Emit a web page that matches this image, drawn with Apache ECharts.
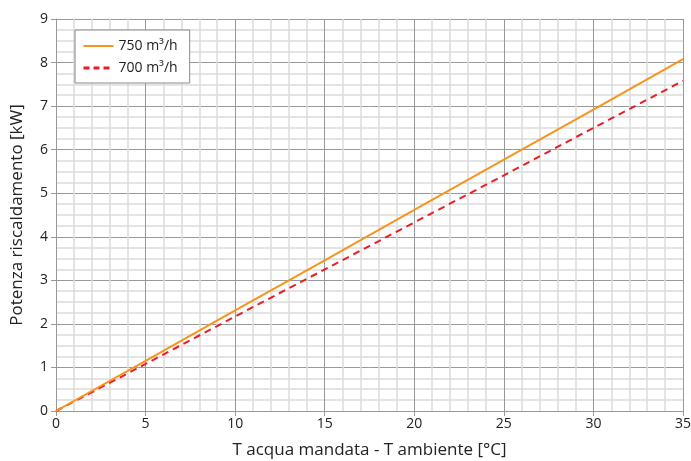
<!DOCTYPE html>
<html><head><meta charset="utf-8">
<script src="https://cdn.jsdelivr.net/npm/echarts@6/dist/echarts.min.js"></script>
<style>html,body{margin:0;padding:0;background:#fff}#c{width:691px;height:461px}</style>
</head><body><div id="c"></div>
<script>
const xValues = [0, 5, 10, 15, 20, 25, 30, 35];
const series750 = [0, 1.15, 2.31, 3.46, 4.62, 5.77, 6.92, 8.08];
const series700 = [0, 1.08, 2.17, 3.25, 4.33, 5.41, 6.50, 7.58];
const seriesNames = ['750 m³/h', '700 m³/h'];
const xAxisName = 'T acqua mandata - T ambiente [°C]';
const yAxisName = 'Potenza riscaldamento [kW]';

const font = 'Open Sans';
const chart = echarts.init(document.getElementById('c'));
chart.setOption({
  animation: false,
  grid: {left: 56, right: 8, top: 19, bottom: 50, show: false, containLabel: false, outerBoundsMode: 'none'},
  legend: {
    orient: 'vertical', left: 75, top: 30,
    backgroundColor: '#fff', borderColor: '#888', borderWidth: 1,
    padding: [9, 12, 8, 7], itemGap: 8, itemWidth: 30, itemHeight: 10,
    itemStyle: {opacity: 0},
    textStyle: {fontFamily: font, fontSize: 14, color: '#222'},
    data: [
      {name: seriesNames[0], lineStyle: {width: 2}},
      {name: seriesNames[1], lineStyle: {width: 3, type: [6, 4]}}
    ]
  },
  xAxis: {
    type: 'value', min: 0, max: 35, interval: 5,
    name: xAxisName, nameLocation: 'middle', nameGap: 31,
    nameTextStyle: {fontFamily: font, fontSize: 17, color: '#222'},
    axisLine: {show: true, lineStyle: {color: '#999', width: 1}},
    axisTick: {show: true, length: 5, lineStyle: {color: '#999'}},
    axisLabel: {fontFamily: font, fontSize: 14, color: '#222', margin: 6},
    splitLine: {show: true, lineStyle: {color: '#999', width: 1}},
    minorTick: {show: false, splitNumber: 5},
    minorSplitLine: {show: true, lineStyle: {color: '#dcdcdc', width: 1.5}}
  },
  yAxis: {
    type: 'value', min: 0, max: 9, interval: 1,
    name: yAxisName, nameLocation: 'middle', nameGap: 30,
    nameTextStyle: {fontFamily: font, fontSize: 17, color: '#222'},
    axisLine: {show: true, lineStyle: {color: '#999', width: 1}},
    axisTick: {show: true, length: 5, lineStyle: {color: '#999'}},
    axisLabel: {fontFamily: font, fontSize: 14, color: '#222', margin: 8},
    splitLine: {show: true, lineStyle: {color: '#999', width: 1}},
    minorTick: {show: false, splitNumber: 4},
    minorSplitLine: {show: true, lineStyle: {color: '#dcdcdc', width: 1.5}}
  },
  series: [
    {name: seriesNames[0], type: 'line', symbol: 'none', z: 3,
     data: xValues.map((x, i) => [x, series750[i]]),
     lineStyle: {color: '#f7941d', width: 2}, itemStyle: {color: '#f7941d'}},
    {name: seriesNames[1], type: 'line', symbol: 'none', z: 2,
     data: xValues.map((x, i) => [x, series700[i]]),
     lineStyle: {color: '#ed1c24', width: 2, type: [7, 5]}, itemStyle: {color: '#ed1c24'}}
  ]
});
</script></body></html>
